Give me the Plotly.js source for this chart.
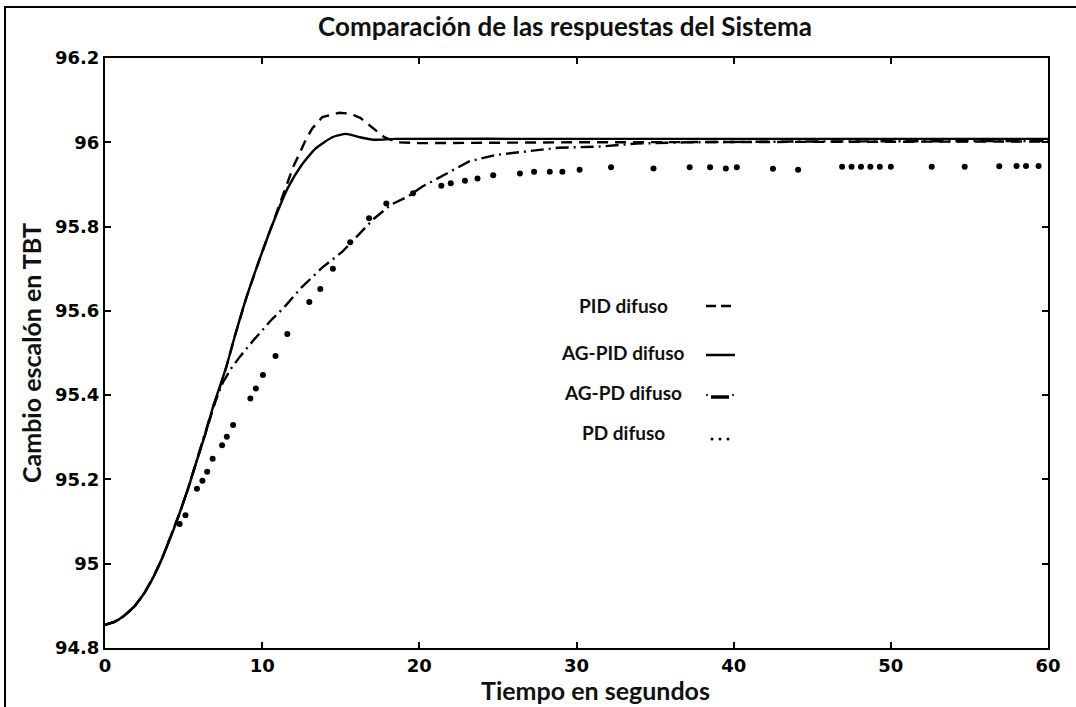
<!DOCTYPE html>
<html>
<head>
<meta charset="utf-8">
<script src="https://cdn.plot.ly/plotly-3.0.1.min.js"></script>
<style>
  html, body { margin: 0; padding: 0; background: #fff; }
  #chart { width: 1076px; height: 707px; }
</style>
</head>
<body>
<div id="chart"></div>
<script>
// ---- Data ----
const seriesNames = ["PID difuso", "AG-PID difuso", "AG-PD difuso", "PD difuso"];

const agPidT = [0, 0.6, 1.2, 1.9, 2.5, 3.1, 3.6, 4.2, 4.7, 5.3, 5.8, 6.4, 6.9, 7.7, 8.3, 9.0, 9.86, 10.73, 11.61, 12.49, 13.36, 14.46, 15.33, 16.21, 17.09, 18.5, 30, 45, 60];
const agPidY = [94.855, 94.862, 94.876, 94.9, 94.93, 94.97, 95.01, 95.065, 95.115, 95.18, 95.24, 95.31, 95.375, 95.465, 95.545, 95.632, 95.725, 95.812, 95.89, 95.945, 95.984, 96.012, 96.02, 96.012, 96.006, 96.008, 96.008, 96.008, 96.008];

const pidT = [0, 0.6, 1.2, 1.9, 2.5, 3.1, 3.6, 4.2, 4.7, 5.3, 5.8, 6.4, 6.9, 7.7, 8.3, 9.0, 9.86, 10.73, 11.3, 12.0, 12.4, 12.7, 13.17, 13.83, 14.9, 15.6, 16.24, 17.1, 17.77, 18.64, 20, 30, 45, 60];
const pidY = [94.855, 94.862, 94.876, 94.9, 94.93, 94.97, 95.01, 95.065, 95.115, 95.18, 95.24, 95.31, 95.375, 95.465, 95.545, 95.632, 95.725, 95.812, 95.87, 95.944, 95.975, 96.0, 96.032, 96.06, 96.07, 96.068, 96.058, 96.032, 96.012, 96.0, 95.998, 96.0, 96.001, 96.002];

const agPdT = [0, 0.6, 1.2, 1.9, 2.5, 3.1, 3.6, 4.2, 4.7, 5.3, 5.8, 6.4, 6.9, 7.5, 8.0, 8.6, 9.42, 10.62, 11.39, 12.49, 13.8, 15.12, 16.21, 17.09, 18.2, 19.3, 20.2, 21.2, 22.3, 23.2, 24.9, 26.86, 28.83, 31.6, 33.8, 37, 45, 60];
const agPdY = [94.855, 94.862, 94.876, 94.9, 94.93, 94.97, 95.01, 95.065, 95.115, 95.18, 95.24, 95.31, 95.375, 95.43, 95.462, 95.492, 95.529, 95.58, 95.608, 95.655, 95.702, 95.741, 95.784, 95.818, 95.852, 95.872, 95.895, 95.915, 95.935, 95.955, 95.97, 95.979, 95.987, 95.99, 95.997, 96.0, 96.002, 96.003];

const pdT = [4.75, 5.12, 5.85, 6.2, 6.5, 6.85, 7.45, 7.75, 8.15, 9.25, 9.6, 10.05, 10.85, 11.6, 13.0, 13.7, 14.5, 15.6, 16.8, 17.9, 19.6, 21.4, 22.0, 22.9, 23.7, 24.7, 26.4, 27.3, 28.3, 29.1, 30.2, 32.2, 34.9, 37.2, 38.5, 39.5, 40.2, 42.5, 44.1, 46.9, 47.5, 48.1, 48.7, 49.3, 50.0, 52.6, 54.7, 56.9, 58.0, 58.6, 59.4];
const pdY = [95.094, 95.115, 95.178, 95.197, 95.218, 95.249, 95.281, 95.301, 95.329, 95.392, 95.416, 95.448, 95.493, 95.545, 95.621, 95.652, 95.70, 95.763, 95.82, 95.855, 95.879, 95.897, 95.903, 95.909, 95.914, 95.922, 95.926, 95.93, 95.93, 95.93, 95.935, 95.941, 95.938, 95.941, 95.941, 95.938, 95.941, 95.937, 95.935, 95.942, 95.942, 95.942, 95.942, 95.942, 95.942, 95.942, 95.942, 95.943, 95.944, 95.944, 95.944];

const titleText = "Comparación de las respuestas del Sistema";
const xTitle = "Tiempo en segundos";
const yTitle = "Cambio escalón en TBT";
const xTickVals = [0, 10, 20, 30, 40, 50, 60];
const yTickVals = [94.8, 95, 95.2, 95.4, 95.6, 95.8, 96, 96.2];

// ---- Layout geometry ----
const W = 1076, H = 707;
const M = {l: 105, r: 28, t: 58, b: 59};
const PW = W - M.l - M.r, PH = H - M.t - M.b;
const px = x => (x - M.l) / PW;        // pixel -> paper x
const py = y => (H - M.b - y) / PH;    // pixel -> paper y
const b = s => "<b>" + s + "</b>";

const textFont = {family: "Lato, 'Open Sans', sans-serif", color: "#111"};

const traces = [
  {x: pidT, y: pidY, name: seriesNames[0], mode: "lines", line: {color: "#000", width: 2.4, dash: "11px,7px"}},
  {x: agPdT, y: agPdY, name: seriesNames[2], mode: "lines", line: {color: "#000", width: 2.4, dash: "13px,5px,2px,5px"}},
  {x: agPidT, y: agPidY, name: seriesNames[1], mode: "lines", line: {color: "#000", width: 2.4, shape: "spline", smoothing: 0.5}},
  {x: pdT, y: pdY, name: seriesNames[3], mode: "markers", marker: {color: "#000", size: 6}}
];

// legend (drawn as text + line samples like the reference)
const legendRows = [
  {label: seriesNames[0], ty: 305, sy: 306, kind: "dash"},
  {label: seriesNames[1], ty: 352, sy: 355, kind: "solid"},
  {label: seriesNames[2], ty: 392, sy: 397, kind: "dashdot"},
  {label: seriesNames[3], ty: 432, sy: 439, kind: "dots"}
];
const annotations = legendRows.map(r => ({
  xref: "paper", yref: "paper", x: px(623), y: py(r.ty), xanchor: "center", yanchor: "middle",
  text: b(r.label), showarrow: false, font: Object.assign({size: 19}, textFont)
}));
// x-axis title, placed where the reference has it
annotations.push({
  xref: "paper", yref: "paper", x: px(595), y: py(690), xanchor: "center", yanchor: "middle",
  text: b(xTitle), showarrow: false, font: Object.assign({size: 25}, textFont)
});
const shapes = [];
legendRows.forEach(r => {
  const y = py(r.sy);
  if (r.kind === "dash") {
    shapes.push({type: "line", xref: "paper", yref: "paper", x0: px(706), x1: px(733), y0: y, y1: y, line: {color: "#000", width: 2.5, dash: "10px,5px"}});
  } else if (r.kind === "solid") {
    shapes.push({type: "line", xref: "paper", yref: "paper", x0: px(706), x1: px(735), y0: y, y1: y, line: {color: "#000", width: 2.5}});
  } else if (r.kind === "dashdot") {
    shapes.push({type: "line", xref: "paper", yref: "paper", x0: px(711), x1: px(729), y0: y, y1: y, line: {color: "#000", width: 3.5}});
    [707, 733].forEach(cx => shapes.push({type: "circle", xref: "paper", yref: "paper", x0: px(cx - 1), x1: px(cx + 1), y0: py(r.sy - 3), y1: py(r.sy - 1), fillcolor: "#000", line: {width: 0}}));
  } else {
    [712, 720, 728].forEach(cx => shapes.push({type: "circle", xref: "paper", yref: "paper", x0: px(cx - 1.5), x1: px(cx + 1.5), y0: py(r.sy - 1.5), y1: py(r.sy + 1.5), fillcolor: "#000", line: {width: 0}}));
  }
});
// outer frame of the figure
shapes.push({type: "rect", xref: "paper", yref: "paper", x0: px(5), x1: px(1090), y0: py(720), y1: py(7), line: {color: "#000", width: 2}, layer: "below"});

const tickFont = {family: "'DejaVu Sans', 'Liberation Sans', sans-serif", size: 18, color: "#000"};

const layout = {
  width: W, height: H,
  margin: M,
  paper_bgcolor: "#fff", plot_bgcolor: "#fff",
  showlegend: false,
  title: {text: b(titleText), x: 565 / W, xanchor: "center", y: 1 - 27 / H, yanchor: "middle", font: Object.assign({size: 26}, textFont)},
  xaxis: {
    range: [0, 60], tickmode: "array", tickvals: xTickVals, ticktext: xTickVals.map(v => b(String(v))),
    showgrid: false, zeroline: false,
    showline: true, mirror: "ticks", linecolor: "#000", linewidth: 2,
    ticks: "inside", ticklen: 6, tickwidth: 2, tickcolor: "#000",
    tickfont: tickFont
  },
  yaxis: {
    range: [94.8, 96.2], tickmode: "array", tickvals: yTickVals, ticktext: yTickVals.map(v => b(String(v))),
    showgrid: false, zeroline: false,
    showline: true, mirror: "ticks", linecolor: "#000", linewidth: 2,
    ticks: "inside", ticklen: 6, tickwidth: 2, tickcolor: "#000",
    tickfont: tickFont,
    title: {text: b(yTitle), font: Object.assign({size: 25}, textFont), standoff: 6}
  },
  annotations: annotations,
  shapes: shapes
};

Plotly.newPlot("chart", traces, layout, {displayModeBar: false, staticPlot: true});
</script>
</body>
</html>
